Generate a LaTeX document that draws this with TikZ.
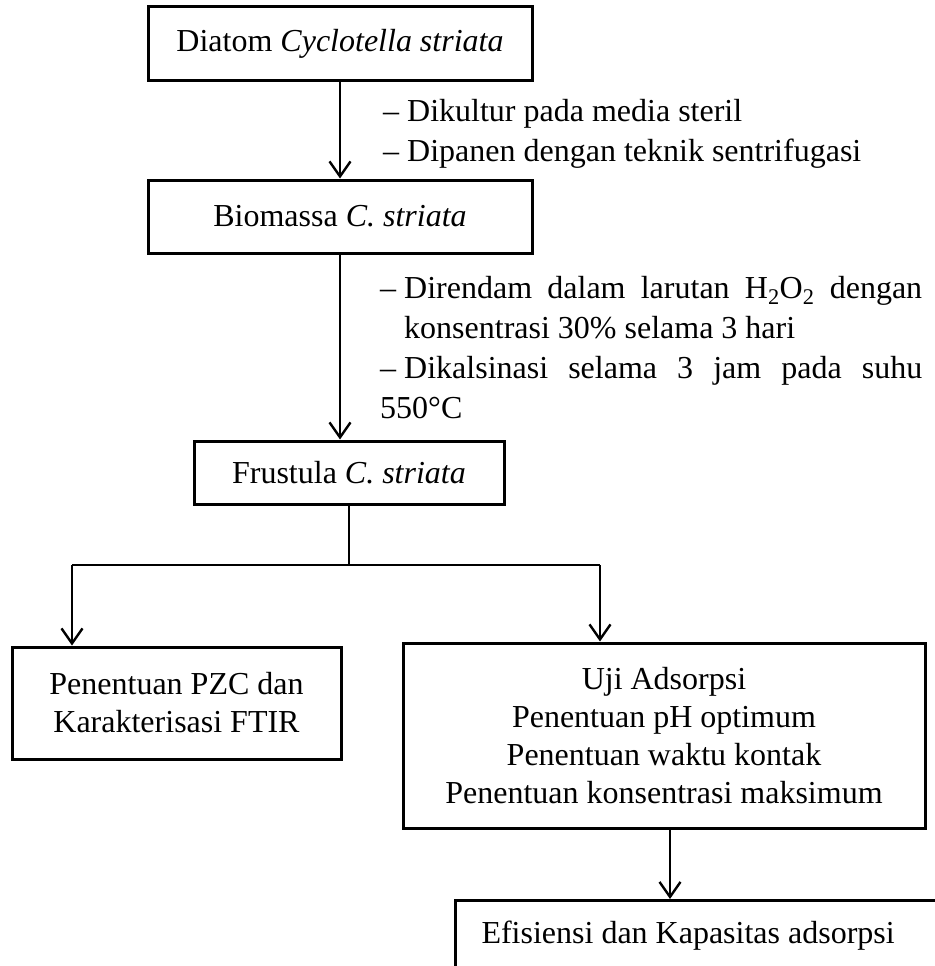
\documentclass[tikz,border=0pt]{standalone}
\usepackage{fontspec}
\setmainfont{Liberation Serif}
\usetikzlibrary{arrows.meta}
\newcommand\dashitem{\noindent\hangindent=24pt\hangafter=1\makebox[24pt][l]{–}}
\begin{document}
\begin{tikzpicture}[x=1pt,y=-1pt,
  every node/.style={font=\fontsize{32}{38}\selectfont, inner sep=0pt},
  box/.style={draw, line width=3pt, align=center},
  conn/.style={line width=2.4pt},
  arr/.style={line width=2.4pt, -{Straight Barb[length=15pt,width=21pt,line width=2.4pt]}},
  lbl/.style={anchor=base west, text width=542pt, align=justify, font=\fontsize{32}{40}\selectfont}]
\useasboundingbox (0,0) rectangle (934,966);
% boxes
\node[box, minimum width=384pt, minimum height=73pt] (b1) at (340,43.5) {Diatom \textit{Cyclotella striata}};
\node[box, minimum width=384pt, minimum height=73pt] (b2) at (340,216.5) {Biomassa \textit{C. striata}};
\node[box, minimum width=310pt, minimum height=63pt] (b3) at (349,472.5) {Frustula \textit{C. striata}};
\node[box, minimum width=329pt, minimum height=112pt] (b4) at (176.5,703) {Penentuan PZC dan\\Karakterisasi FTIR};
\node[box, minimum width=522pt, minimum height=185pt] (b5) at (664,735.5) {Uji Adsorpsi\\Penentuan pH optimum\\Penentuan waktu kontak\\Penentuan konsentrasi maksimum};
\node[box, anchor=north west, align=flush left, text width=470pt, inner xsep=26pt, minimum height=76pt, text height=22pt, text depth=12pt] (b6) at (454,899) {Efisiensi dan Kapasitas adsorpsi};
% labels
\node[lbl] (l1) at (383,121) {\dashitem Dikultur pada media steril\par\dashitem Dipanen dengan teknik sentrifugasi};
\node[lbl] (l2) at (380,298) {\dashitem Direndam dalam larutan H\textsubscript{2}O\textsubscript{2} dengan konsentrasi 30\% selama 3 hari\par\dashitem Dikalsinasi selama 3 jam pada suhu 550°C};
% connectors
\coordinate (c1) at (340,0);
\coordinate (br) at (349,565);
\coordinate (bl) at (72,565);
\coordinate (bu) at (600,565);
\coordinate (c6) at (670,0);
\draw[arr] (b1.south -| c1) -- (b2.north -| c1);
\draw[arr] (b2.south -| c1) -- (b3.north -| c1);
\draw[conn] (b3.south) -- (br);
\draw[conn] (bl) -- (bu);
\draw[arr] (bl) -- (bl |- b4.north);
\draw[arr] (bu) -- (bu |- b5.north);
\draw[arr] (b5.south -| c6) -- (b6.north -| c6);
\end{tikzpicture}
\end{document}
